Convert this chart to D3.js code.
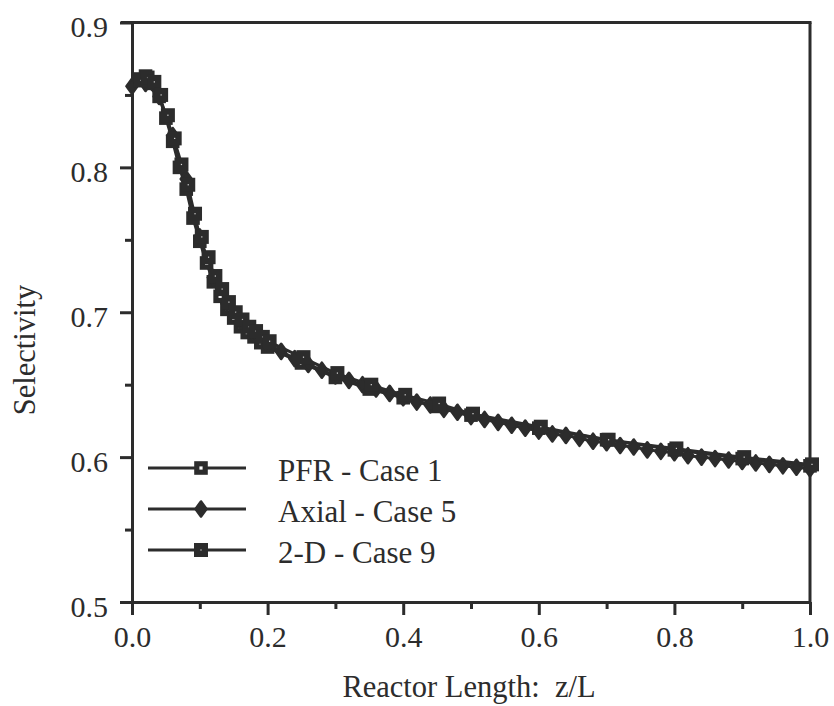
<!DOCTYPE html>
<html>
<head>
<meta charset="utf-8">
<script src="https://cdn.jsdelivr.net/npm/d3@7/dist/d3.min.js"></script>
<style>
  html, body { margin: 0; padding: 0; background: #fff; }
  svg { display: block; }
</style>
</head>
<body>
<svg id="chart" width="834" height="706"></svg>
<script>
// ---- data ----
const squareX = [0.01,0.02,0.03,0.04,0.05,0.06,0.07,0.08,0.09,0.10,
                 0.11,0.12,0.13,0.14,0.15,0.16,0.17,0.18,0.19,0.20,
                 0.25,0.30,0.35,0.40,0.45,0.50,0.60,0.70,0.80,0.90,1.00];
const pfrCase1 = [0.861,0.863,0.858,0.849,0.834,0.818,0.800,0.785,0.765,0.749,
                  0.734,0.721,0.711,0.702,0.696,0.690,0.686,0.683,0.679,0.676,
                  0.665,0.655,0.647,0.641,0.635,0.629,0.620,0.612,0.605,0.599,0.594];
const twoDCase9 = [0.860,0.862,0.859,0.850,0.836,0.820,0.802,0.788,0.768,0.752,
                   0.738,0.725,0.716,0.707,0.700,0.695,0.690,0.687,0.683,0.680,
                   0.669,0.658,0.650,0.643,0.637,0.630,0.621,0.612,0.606,0.600,0.595];
const axialX = [0.00,0.02,0.04,0.06,0.08,0.10,0.12,0.14,0.16,0.18,0.20,
                0.22,0.24,0.26,0.28,0.30,0.32,0.34,0.36,0.38,0.40,
                0.42,0.44,0.46,0.48,0.50,0.52,0.54,0.56,0.58,0.60,
                0.62,0.64,0.66,0.68,0.70,0.72,0.74,0.76,0.78,0.80,
                0.82,0.84,0.86,0.88,0.90,0.92,0.94,0.96,0.98,1.00];
const axialCase5 = [0.856,0.858,0.849,0.822,0.792,0.752,0.724,0.706,0.694,0.685,0.678,
                    0.673,0.668,0.664,0.660,0.656,0.653,0.650,0.647,0.644,0.641,
                    0.638,0.636,0.633,0.631,0.628,0.626,0.624,0.622,0.620,0.618,
                    0.616,0.615,0.613,0.611,0.610,0.608,0.607,0.605,0.604,0.603,
                    0.601,0.600,0.599,0.598,0.597,0.596,0.595,0.594,0.593,0.592];
const xMajorTicks = [0.0,0.2,0.4,0.6,0.8,1.0];
const xMinorTicks = [0.1,0.3,0.5,0.7,0.9];
const yMajorTicks = [0.5,0.6,0.7,0.8,0.9];
const yMinorTicks = [0.55,0.65,0.75,0.85];
const legendLabels = ["PFR - Case 1","Axial - Case 5","2-D - Case 9"];
const xTitle = "Reactor Length:\u00A0 z/L";
const yTitle = "Selectivity";

// ---- layout ----
const ink = "#2c2c2c";
const FONT = "Liberation Serif";
const svg = d3.select("#chart");
const x = d3.scaleLinear().domain([0,1]).range([132,810]);
const y = d3.scaleLinear().domain([0.5,0.9]).range([602,22.5]);

function styleAxis(g){
  g.attr("font-family", FONT).attr("font-size", 30);
  g.selectAll("path.domain").attr("stroke", ink).attr("stroke-width", 3);
  g.selectAll(".tick line").attr("stroke", ink).attr("stroke-width", 3);
  g.selectAll(".tick text").attr("fill", ink).attr("font-family", FONT);
}
const yMajor = svg.append("g").attr("transform",`translate(${x(0)},0)`)
  .call(d3.axisLeft(y).tickValues(yMajorTicks).tickSize(12).tickSizeOuter(0).tickPadding(12)
        .tickFormat(d3.format(".1f")));
styleAxis(yMajor);
yMajor.selectAll(".tick text").attr("dy","0.48em");
const yMinor = svg.append("g").attr("transform",`translate(${x(0)},0)`)
  .call(d3.axisLeft(y).tickValues(yMinorTicks).tickSize(7).tickSizeOuter(0).tickFormat(""));
styleAxis(yMinor);

const xMajor = svg.append("g").attr("transform",`translate(0,${y(0.5)})`)
  .call(d3.axisBottom(x).tickValues(xMajorTicks).tickSize(13).tickSizeOuter(0).tickPadding(8)
        .tickFormat(d3.format(".1f")));
styleAxis(xMajor);
xMajor.selectAll(".tick text").attr("dy","0.8em");
const xMinor = svg.append("g").attr("transform",`translate(0,${y(0.5)})`)
  .call(d3.axisBottom(x).tickValues(xMinorTicks).tickSize(7).tickSizeOuter(0).tickFormat(""));
styleAxis(xMinor);

// frame top and right
svg.append("line").attr("x1", x(0)-11).attr("x2", x(1)+1.5).attr("y1", y(0.9)).attr("y2", y(0.9))
  .attr("stroke", ink).attr("stroke-width", 3);
svg.append("line").attr("x1", x(1)).attr("x2", x(1)).attr("y1", y(0.9)).attr("y2", y(0.5))
  .attr("stroke", ink).attr("stroke-width", 3);

// titles
svg.append("text").attr("x", 469).attr("y", 697).attr("text-anchor","middle")
  .attr("font-family", FONT).attr("font-size", 30.5).attr("fill", ink).text(xTitle);
svg.append("text").attr("transform","translate(35,350) rotate(-90)").attr("text-anchor","middle")
  .attr("font-family", FONT).attr("font-size", 30.5).attr("fill", ink).text(yTitle);

// ---- series ----
const line = d3.line().x(d=>x(d[0])).y(d=>y(d[1]));
const pfrData = squareX.map((v,i)=>[v,pfrCase1[i]]);
const twoDData = squareX.map((v,i)=>[v,twoDCase9[i]]);
const axialData = axialX.map((v,i)=>[v,axialCase5[i]]);

const plot = svg.append("g");
[pfrData, axialData, twoDData].forEach(dat=>{
  plot.append("path").datum(dat).attr("d", line).attr("fill","none")
    .attr("stroke", ink).attr("stroke-width", 3).attr("stroke-linejoin","round");
});

const diamond = d3.symbol().type(d3.symbolDiamond).size(70);
function drawAxial(g, cx, cy){
  g.append("path").attr("d", diamond()).attr("transform",`translate(${cx},${cy}) scale(1.25,1)`)
    .attr("fill", ink).attr("stroke", ink).attr("stroke-width", 2).attr("stroke-linejoin","round");
}
function drawTwoD(g, cx, cy){
  g.append("rect").attr("x", cx-7).attr("y", cy-7).attr("width",14).attr("height",14).attr("fill", ink);
  g.append("rect").attr("x", cx-0.6).attr("y", cy-0.6).attr("width",1.2).attr("height",1.2).attr("fill","#ddd");
}
function drawPFR(g, cx, cy){
  g.append("rect").attr("x", cx-4.2).attr("y", cy-4.2).attr("width",8.4).attr("height",8.4)
    .attr("fill","#fff").attr("stroke", ink).attr("stroke-width",5.2);
}

const mk = svg.append("g");
pfrData.forEach(d=>drawPFR(mk, x(d[0]), y(d[1])));
axialData.forEach(d=>drawAxial(mk, x(d[0]), y(d[1])));
twoDData.forEach(d=>drawTwoD(mk, x(d[0])+2, y(d[1])));

// ---- legend ----
const legY = [468, 509, 550];
const lg = svg.append("g");
legendLabels.forEach((lab,i)=>{
  lg.append("line").attr("x1",148).attr("x2",246).attr("y1",legY[i]).attr("y2",legY[i])
    .attr("stroke", ink).attr("stroke-width",3);
  if(i===0) drawPFR(lg, 201, legY[i]);
  if(i===1) drawAxial(lg, 201, legY[i]);
  if(i===2) drawTwoD(lg, 201, legY[i]);
  lg.append("text").attr("x",278).attr("y",legY[i]+13).attr("font-family", FONT).attr("font-size", 31)
    .attr("fill", ink).text(lab);
});
</script>
</body>
</html>
